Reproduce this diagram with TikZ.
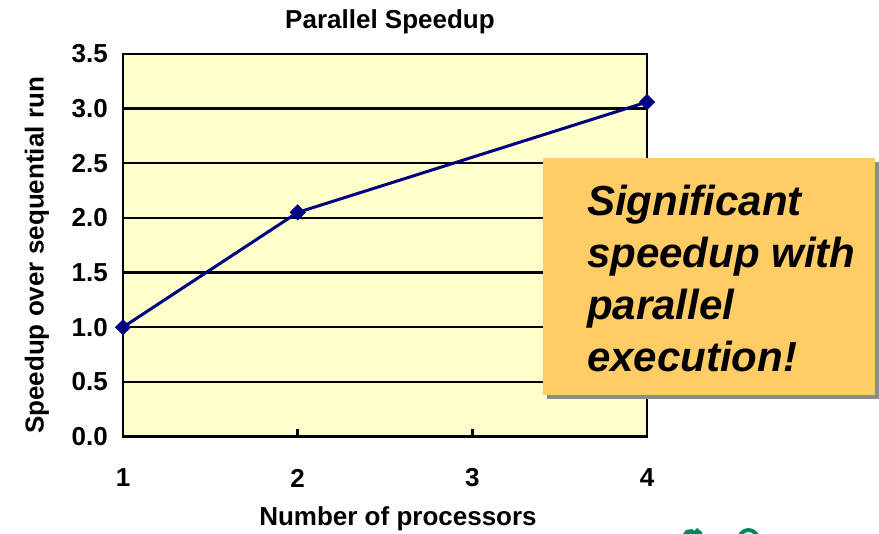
\documentclass[tikz,border=0pt]{standalone}
\usepackage{fontspec}
\setmainfont{Liberation Sans}
\usetikzlibrary{shapes.geometric,shadows}
\definecolor{plotbg}{HTML}{FFFFCC}
\definecolor{series}{HTML}{000080}
\definecolor{notefill}{HTML}{FFCC66}
\definecolor{logogreen}{HTML}{00855F}
\begin{document}
\begin{tikzpicture}[x=1pt,y=-1pt,
  chartfont/.style={font=\fontsize{26}{30}\selectfont\bfseries},
  ylab/.style={chartfont,anchor=east,inner sep=0pt},
  xlab/.style={chartfont,anchor=center,inner sep=0pt},
  gridline/.style={line width=2.5pt,black},
  marker/.style={diamond,fill=series,draw=none,minimum size=16pt,inner sep=0pt},
  notebox/.style={rectangle,fill=notefill,draw=none,minimum width=332pt,minimum height=237pt,
    drop shadow={shadow xshift=4pt,shadow yshift=-4pt,fill=gray!90,opacity=1}},
  noteline/.style={anchor=base west,inner sep=0pt,font=\fontsize{42}{52}\selectfont\bfseries\itshape}]
\useasboundingbox (0,0) rectangle (879,534);

% plot area
\fill[plotbg] (123,54) rectangle (647,436.5);
\foreach \v in {0.5,1.0,...,3.0}{
  \draw[gridline] (123,{436.5-\v*109.3}) -- (647,{436.5-\v*109.3});
}
\draw[gridline] (123,54) rectangle (647,436.5);
% ticks on the category axis
\foreach \n in {2,3}{
  \draw[gridline] ({123+(\n-1)*174.67},436.5) -- ({123+(\n-1)*174.67},429);
}

% axis labels
\foreach \v/\t in {0/0.0,0.5/0.5,1/1.0,1.5/1.5,2/2.0,2.5/2.5,3/3.0,3.5/3.5}{
  \node[ylab] (y\t) at (108,{436.5-\v*109.3}) {\t};
}
\foreach \n in {1,2,3,4}{
  \node[xlab] (x\n) at ({123+(\n-1)*174.67},478) {\n};
}
\node[chartfont,inner sep=0pt] (title) at (390,22) {Parallel Speedup};
\node[chartfont,inner sep=0pt] (xtitle) at (398,519) {Number of processors};
\node[chartfont,inner sep=0pt,rotate=90] (ytitle) at (37,255.5) {Speedup over sequential run};

% data series
\node[marker] (p1) at (123,{436.5-1.0*109.3}) {};
\node[marker] (p2) at (297.7,{436.5-2.05*109.3}) {};
\node[marker] (p4) at (647,{436.5-3.06*109.3}) {};
\draw[series,line width=3pt,line join=round] (p1.center) -- (p2.center) -- (p4.center);
\node[marker] at (p1) {};
\node[marker] at (p2) {};
\node[marker] at (p4) {};

% call-out
\node[notebox] (note) at (709,276.5) {};
\node[noteline] (n1) at (587,216) {Significant};
\node[noteline] (n2) at (587,268) {speedup with};
\node[noteline] (n3) at (587,320) {parallel};
\node[noteline] (n4) at (587,372) {execution!};

% logo fragment at the lower edge
\begin{scope}
\clip (0,0) rectangle (879,534);
\fill[logogreen] (683,534) -- (686,530) -- (692,529) -- (694,531) -- (697,528) -- (702,532) -- (702,534) -- cycle;
\fill[logogreen,even odd rule] (748.5,541) ellipse (12 and 13) (748.5,541) ellipse (8 and 9);
\end{scope}
\end{tikzpicture}
\end{document}
